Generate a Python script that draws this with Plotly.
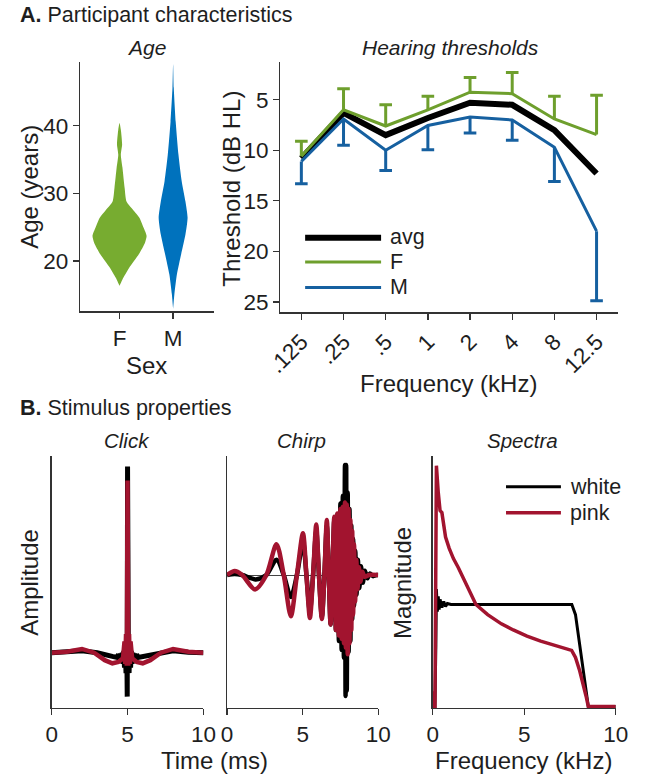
import plotly.graph_objects as go

W, H = 645, 781
FONT = "Liberation Sans"
TXT = "#1e1e1e"
AXC = "#333333"
GREEN = "#77AC30"
BLUE = "#0072BD"
GREEN_L = "#6E9F2D"
BLUE_L = "#1660A0"
RED = "#A2142F"

# ---------------- data ----------------
# Age violins (age in years, half-width of the density in category units)
f_age = [40.4, 39.4, 37.2, 35.7, 33.8, 30.8, 28.8, 27.4, 26.4, 24.9, 23.7, 22.7, 21.0, 19.0, 17.5, 16.3]
f_halfwidth = [0, .024, .048, .024, .054, .095, .13, .27, .37, .45, .505, .475, .36, .18, .07, 0]
m_age = [49.1, 45.6, 40.6, 35.7, 31.8, 28.8, 26.4, 23.9, 21.0, 18.0, 15.1, 12.9]
m_halfwidth = [0, .012, .048, .10, .16, .23, .27, .23, .15, .07, .024, 0]
sex_labels = ["F", "M"]

# Hearing thresholds (dB HL)
freq_labels = [".125", ".25", ".5", "1", "2", "4", "8", "12.5"]
avg_thr = [10.8, 6.3, 8.5, 6.8, 5.3, 5.5, 8.0, 12.3]
f_thr = [10.6, 6.0, 7.6, 6.0, 4.25, 4.4, 6.9, 8.45]
f_err = [1.5, 2.1, 2.1, 1.35, 1.45, 2.1, 2.25, 3.9]
m_thr = [11.1, 6.9, 10.0, 7.55, 6.7, 7.0, 9.7, 18.0]
m_err = [2.2, 2.6, 2.0, 2.4, 1.6, 2.0, 3.4, 6.9]

# Click waveforms (time ms, normalised amplitude)
click_black_t = [0, 1, 2, 3, 3.6, 4.0, 4.3, 4.4, 4.5, 4.55, 4.6, 4.65, 4.7, 4.75, 4.8, 4.85,
                 4.9, 4.95, 4.98, 5.0, 5.02, 5.05, 5.1, 5.15, 5.2, 5.25, 5.3, 5.35, 5.4, 5.45,
                 5.5, 5.6, 5.7, 6.0, 6.4, 7, 8, 9, 10]
click_black_a = [0, 0.003, 0.01, 0.0, -0.015, -0.02, -0.025, -0.01, -0.04, -0.005, -0.05, 0.0,
                 -0.06, 0.01, -0.08, 0.02, -0.11, 0.03, -0.236, 1.0, -0.236, 0.03, -0.11, 0.02,
                 -0.08, 0.01, -0.06, 0.0, -0.05, -0.005, -0.04, -0.01, -0.025, -0.02, -0.015,
                 0.0, 0.01, 0.003, 0]
click_red_t = [0, 1.0, 2.0, 2.8, 3.5, 4.0, 4.4, 4.7, 4.8, 4.85, 4.9, 4.95, 5.0, 5.05, 5.1,
               5.15, 5.2, 5.3, 5.6, 6.0, 6.5, 7.2, 8.0, 9.0, 10]
click_red_a = [0, 0.005, 0.02, 0.0, -0.04, -0.057, -0.05, -0.03, 0.06, -0.06, 0.10, -0.07,
               0.925, -0.07, 0.10, -0.06, 0.06, -0.03, -0.05, -0.057, -0.04, 0.0, 0.02, 0.005, 0]

# Chirp waveforms (time ms, normalised amplitude)
chirp_black_t = [0, 0.5, 1.0, 1.9, 2.6, 3.27, 3.75, 4.22, 4.62, 5.02, 5.25, 5.48, 5.69, 5.9,
                 6.08, 6.27, 6.44, 6.6, 6.73, 6.85, 6.97, 7.09, 7.2, 7.3, 7.4, 7.5, 7.58, 7.66,
                 7.73, 7.8, 7.84, 7.88, 7.92, 7.98, 8.04, 8.1, 8.16, 8.22, 8.28, 8.34, 8.4,
                 8.48, 8.56, 8.65, 8.75, 8.86, 8.98, 9.12, 9.28, 9.45, 9.65, 9.9, 10]
chirp_black_a = [0, 0.01, 0, -0.04, 0, 0.14, 0, -0.20, 0, 0.3, 0, -0.33, 0, 0.4, 0, -0.38, 0,
                 0.45, 0, -0.45, 0, 0.5, -0.5, 0.55, -0.6, 0.65, -0.68, 0.72, -0.75, 1.0, -1.10,
                 1.0, -1.05, 0.75, -0.7, 0.6, -0.6, 0.45, -0.4, 0.33, -0.28, 0.22, -0.18, 0.14,
                 -0.12, 0.08, -0.07, 0.04, -0.03, 0.015, -0.01, 0, 0]
chirp_red_t = [0, 0.5, 1.0, 1.85, 2.6, 3.27, 3.75, 4.22, 4.62, 5.02, 5.25, 5.48, 5.69, 5.9,
               6.08, 6.27, 6.44, 6.6, 6.73, 6.85, 6.97, 7.09, 7.2, 7.3, 7.4, 7.5, 7.58, 7.66,
               7.73, 7.8, 7.86, 7.92, 7.98, 8.04, 8.1, 8.16, 8.22, 8.28, 8.34, 8.4, 8.47, 8.55,
               8.63, 8.72, 8.82, 8.95, 9.1, 9.4, 10]
chirp_red_a = [0, 0.036, 0, -0.131, 0, 0.28, 0, -0.374, 0, 0.38, 0, -0.39, 0, 0.46, 0, -0.40,
               0, 0.50, 0, -0.45, 0, 0.53, -0.50, 0.56, -0.55, 0.6, -0.58, 0.62, -0.62, 0.66,
               -0.66, 0.64, -0.72, 0.6, -0.62, 0.5, -0.5, 0.4, -0.36, 0.28, -0.24, 0.14, -0.13,
               0.07, -0.06, 0.03, -0.015, 0, 0]

# Spectra (frequency kHz, normalised magnitude)
white_f = [0, 0.12, 0.17, 0.2, 0.25, 0.3, 0.35, 0.4, 0.5, 0.6, 0.7, 0.8, 1.0, 7.6, 7.8,
           8.0, 8.3, 8.5, 10]
white_m = [0.0, 0.0, 0.6, 1.15, 0.93, 1.08, 0.95, 1.05, 0.97, 1.03, 0.98, 1.01, 1.0, 1.0,
           0.9, 0.65, 0.25, 0.0, 0.0]
pink_f = [0, 0.05, 0.12, 0.2, 0.3, 0.4, 0.5, 0.6, 0.7, 0.9, 1.13, 1.4, 1.65, 2.0, 2.36,
          3.0, 3.75, 4.4, 5.15, 5.9, 6.72, 7.59, 7.8, 8.03, 8.38, 8.5, 10]
pink_m = [0.15, 0.0, 0.0, 2.36, 2.1, 1.92, 1.90, 1.76, 1.66, 1.55, 1.45, 1.36, 1.27, 1.13,
          1.0, 0.9, 0.81, 0.75, 0.69, 0.64, 0.6, 0.55, 0.48, 0.35, 0.1, 0.0, 0.0]
time_ticks = [0, 5, 10]


# ---------------- helpers ----------------
def px_x(p):
    return p / W


def px_y(p):
    return 1 - p / H


def ann(text, x, y, size=21, angle=0, xanchor="center"):
    return dict(text=text, x=px_x(x), y=px_y(y), xref="paper", yref="paper",
                showarrow=False, textangle=angle, xanchor=xanchor, yanchor="middle",
                font=dict(family=FONT, size=size, color=TXT))


fig = go.Figure()

# ---- violins ----
for pos, ages, hw, col in [(1, f_age, f_halfwidth, GREEN), (2, m_age, m_halfwidth, BLUE)]:
    xs = [pos + w for w in hw] + [pos - w for w in hw[::-1]]
    ys = list(ages) + list(ages[::-1])
    fig.add_trace(go.Scatter(x=xs, y=ys, fill="toself", fillcolor=col, mode="lines",
                             line=dict(width=0, color=col, shape="spline", smoothing=0.6),
                             xaxis="x", yaxis="y", showlegend=False, hoverinfo="skip"))

# ---- hearing thresholds ----
idx = list(range(len(freq_labels)))
fig.add_trace(go.Scatter(x=idx, y=avg_thr, mode="lines", line=dict(color="black", width=6),
                         xaxis="x2", yaxis="y2", showlegend=False))
for thr, err, col, sign in [(f_thr, f_err, GREEN_L, -1), (m_thr, m_err, BLUE_L, 1)]:
    ex, ey, cy = [], [], []
    for i, v, e in zip(idx, thr, err):
        ex += [i, i, None]
        ey += [v, v + sign * e, None]
        cy.append(v + sign * e)
    fig.add_trace(go.Scatter(x=ex, y=ey, mode="lines", line=dict(color=col, width=3),
                             xaxis="x2", yaxis="y2", showlegend=False))
    fig.add_trace(go.Scatter(x=idx, y=cy, mode="markers",
                             marker=dict(symbol="line-ew", size=9,
                                         line=dict(color=col, width=3)),
                             xaxis="x2", yaxis="y2", showlegend=False))
    fig.add_trace(go.Scatter(x=idx, y=thr, mode="lines", line=dict(color=col, width=3),
                             xaxis="x2", yaxis="y2", showlegend=False))

# ---- click ----
fig.add_trace(go.Scatter(x=click_black_t, y=click_black_a, mode="lines",
                         line=dict(color="black", width=5), xaxis="x3", yaxis="y3",
                         showlegend=False))
fig.add_trace(go.Scatter(x=click_red_t, y=click_red_a, mode="lines",
                         line=dict(color=RED, width=4.5), xaxis="x3", yaxis="y3",
                         showlegend=False))

# ---- chirp ----
fig.add_trace(go.Scatter(x=chirp_black_t, y=chirp_black_a, mode="lines",
                         line=dict(color="black", width=4.5, shape="spline", smoothing=0.8),
                         xaxis="x4", yaxis="y4", showlegend=False))
fig.add_trace(go.Scatter(x=chirp_red_t, y=chirp_red_a, mode="lines",
                         line=dict(color=RED, width=4.5, shape="spline", smoothing=0.8),
                         xaxis="x4", yaxis="y4", showlegend=False))

# ---- spectra ----
fig.add_trace(go.Scatter(x=white_f, y=white_m, mode="lines", line=dict(color="black", width=3),
                         xaxis="x5", yaxis="y5", showlegend=False))
fig.add_trace(go.Scatter(x=pink_f, y=pink_m, mode="lines", line=dict(color=RED, width=3.5),
                         xaxis="x5", yaxis="y5", showlegend=False))

# ---------------- axes ----------------
tickfont = dict(family=FONT, size=22.5, color=TXT)
base = dict(showgrid=False, zeroline=False, showline=True, linecolor=AXC, linewidth=1.3,
            ticks="outside", ticklen=6, tickwidth=1.3, tickcolor=AXC, tickfont=tickfont,
            fixedrange=True)
noy = dict(base, ticks="", showticklabels=False)

fig.update_layout(
    xaxis=dict(base, domain=[px_x(68), px_x(208)], range=[0.2625, 2.7625],
               tickvals=[1, 2], ticktext=sex_labels, anchor="y"),
    yaxis=dict(base, domain=[px_y(312), px_y(62)], range=[12.57, 49.44],
               tickvals=[20, 30, 40], anchor="x"),
    xaxis2=dict(base, domain=[px_x(277.3), px_x(630)], range=[-0.5, 7.5],
                tickvals=idx, ticktext=freq_labels, tickangle=-45, anchor="y2"),
    yaxis2=dict(base, domain=[px_y(313.3), px_y(61.7)], range=[26.05, 1.22],
                tickvals=[5, 10, 15, 20, 25], anchor="x2"),
    xaxis3=dict(base, domain=[px_x(38.3), px_x(197)], range=[0, 10],
                tickvals=time_ticks, anchor="y3"),
    yaxis3=dict(noy, domain=[px_y(710), px_y(456.7)], range=[-0.298, 1.059], anchor="x3"),
    xaxis4=dict(base, domain=[px_x(221.7), px_x(379.7)], range=[0, 10],
                tickvals=time_ticks, anchor="y4"),
    yaxis4=dict(noy, domain=[px_y(710), px_y(456.7)], range=[-1.21, 1.086], anchor="x4",
                zeroline=True, zerolinecolor="#444444", zerolinewidth=1),
    xaxis5=dict(base, domain=[px_x(436.7), px_x(628)], range=[0, 10],
                tickvals=time_ticks, anchor="y5"),
    yaxis5=dict(noy, domain=[px_y(710), px_y(456.7)], range=[-0.017, 2.46], anchor="x5"),
)

annotations = [
    ann("<b>A.</b> Participant characteristics", 3, 15, size=21.5, xanchor="left"),
    ann("<b>B.</b> Stimulus properties", 3, 409, size=21.5, xanchor="left"),
    ann("<i>Age</i>", 137, 48, size=21),
    ann("<i>Hearing thresholds</i>", 455, 48, size=21),
    ann("<i>Click</i>", 117, 442, size=20.5),
    ann("<i>Chirp</i>", 300, 442, size=20.5),
    ann("<i>Spectra</i>", 531, 442, size=20.5),
    ann("Age (years)", 15, 187, size=24, angle=-90),
    ann("Sex", 137, 366, size=24),
    ann("Threshold (dB HL)", 226, 189, size=24, angle=-90),
    ann("Frequency (kHz)", 453, 384, size=24),
    ann("Amplitude", 15, 584, size=24, angle=-90),
    ann("Magnitude", 405, 584, size=24, angle=-90),
    ann("Time (ms)", 209, 762, size=24),
    ann("Frequency (kHz)", 532, 762, size=24),
    # legends
    ann("avg", 390, 238, size=21.5, xanchor="left"),
    ann("F", 390, 263, size=21.5, xanchor="left"),
    ann("M", 390, 288, size=21.5, xanchor="left"),
    ann("white", 578, 488, size=21.5, xanchor="left"),
    ann("pink", 578, 514, size=21.5, xanchor="left"),
]


def legline(x0, x1, y, color, width):
    return dict(type="line", xref="paper", yref="paper", x0=px_x(x0), x1=px_x(x1),
                y0=px_y(y), y1=px_y(y), line=dict(color=color, width=width))


shapes = [
    legline(303.3, 382.7, 238.3, "black", 6),
    legline(303.3, 382.7, 262.7, GREEN_L, 3),
    legline(303.3, 382.7, 288.3, BLUE_L, 3),
    legline(513.3, 570.7, 488, "black", 3),
    legline(513.3, 570.7, 514, RED, 3.5),
]

fig.update_layout(width=W, height=H, margin=dict(l=0, r=0, t=0, b=0),
                  paper_bgcolor="white", plot_bgcolor="white",
                  font=dict(family=FONT, color=TXT), annotations=annotations,
                  shapes=shapes, showlegend=False)

fig.write_html("out.html", config={"displayModeBar": False, "staticPlot": True},
               post_script="document.body.style.margin='0';"
                           "document.body.style.overflow='hidden';")
